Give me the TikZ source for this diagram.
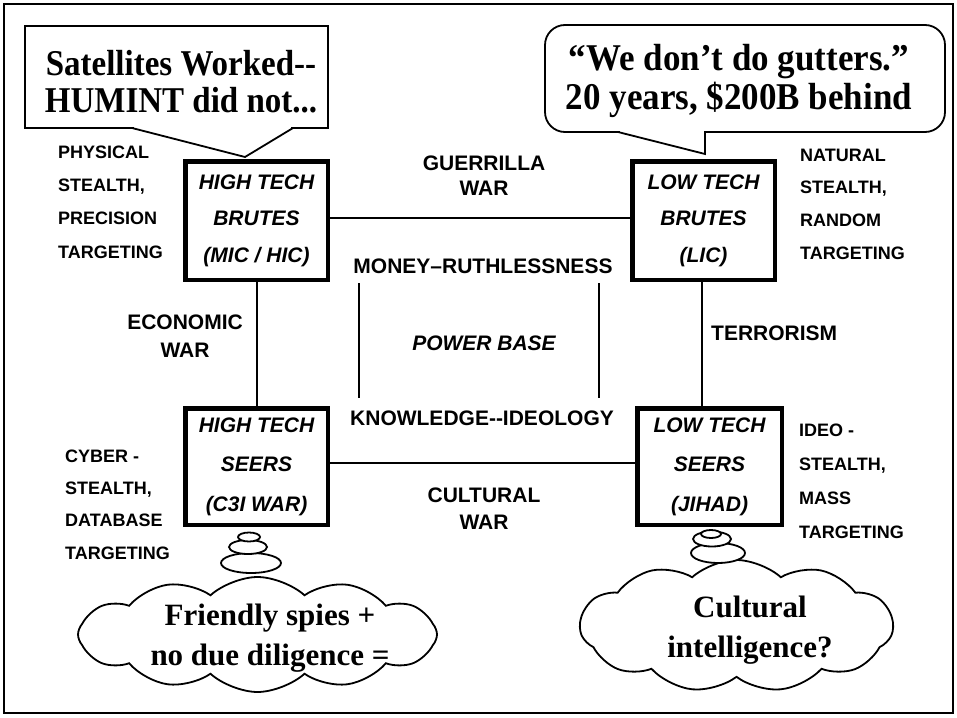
\documentclass[tikz,border=0pt]{standalone}
\usepackage{fontspec}
\setmainfont{Liberation Serif}
\newfontfamily\arialf{Liberation Sans}
\usetikzlibrary{shapes.symbols,calc}
\newcommand\fsz[2]{\fontsize{#1}{#2}\selectfont}
\tikzset{
  conn/.style={line width=2pt},
  frameline/.style={line width=2.5pt},
  tbox/.style={draw, line width=4.5pt, fill=white, align=center, inner sep=0pt,
    font=\arialf\bfseries\itshape\fsz{21}{36.5}},
  sidelbl/.style={align=left, inner sep=0pt, anchor=west},
  conlbl/.style={align=center, inner sep=0pt},
  calloutline/.style={line width=1.8pt},
  ctext/.style={align=center, inner sep=0pt},
  cloudshape/.style={cloud, draw, line width=1.8pt, fill=white, inner sep=0pt},
  bubble/.style={draw, line width=1.8pt, fill=white}
}
\begin{document}
\begin{tikzpicture}[x=1pt, y=-1pt]
\fill[white] (0,0) rectangle (957,717);
\useasboundingbox (0,0) rectangle (957,717);
\draw[frameline] (4,4) rectangle (953,713);

% boxes
\node[tbox, minimum width=142.5pt, minimum height=118.5pt] (htb) at (256.5,220.5) {HIGH TECH\\BRUTES\\(MIC / HIC)};
\node[tbox, minimum width=142.5pt, minimum height=118.5pt] (ltb) at (703.5,220.5) {LOW TECH\\BRUTES\\(LIC)};
\node[tbox, minimum width=142.5pt, minimum height=116.5pt, font=\arialf\bfseries\itshape\fsz{21}{39.5}] (hts) at (256.5,466.5) {HIGH TECH\\SEERS\\(C3I WAR)};
\node[tbox, minimum width=144.5pt, minimum height=116.5pt, font=\arialf\bfseries\itshape\fsz{21}{39.5}] (lts) at (709.5,466.5) {LOW TECH\\SEERS\\(JIHAD)};

% connectors
\coordinate (r1) at ($(ltb.south)+(-1.5,0)$);
\draw[conn] ($(htb.east)+(0,-2.5)$) -- ($(ltb.west)+(0,-2.5)$);
\draw[conn] (htb.south) -- (hts.north);
\draw[conn] (r1) -- (r1 |- lts.north);
\draw[conn] ($(hts.east)+(0,-3.5)$) -- ($(lts.west)+(0,-3.5)$);

% power base lines
\coordinate (p1) at (359,283);
\coordinate (p2) at (359,398);
\coordinate (p3) at (599,283);
\coordinate (p4) at (599,398);
\draw[conn] (p1) -- (p2);
\draw[conn] (p3) -- (p4);

% side labels
\node[sidelbl, font=\arialf\bfseries\fsz{18}{33.3}] (lphys) at (58,202) {PHYSICAL\\STEALTH,\\PRECISION\\TARGETING};
\node[sidelbl, font=\arialf\bfseries\fsz{18}{32.7}] (lnat) at (800,204) {NATURAL\\STEALTH,\\RANDOM\\TARGETING};
\node[sidelbl, font=\arialf\bfseries\fsz{18}{32.3}] (lcyb) at (65,504.5) {CYBER -\\STEALTH,\\DATABASE\\TARGETING};
\node[sidelbl, font=\arialf\bfseries\fsz{18}{34}] (lideo) at (799,481) {IDEO -\\STEALTH,\\MASS\\TARGETING};

% connector labels
\node[conlbl, font=\arialf\bfseries\fsz{21}{25}] (gw) at (484,175.5) {GUERRILLA\\WAR};
\node[conlbl, font=\arialf\bfseries\fsz{21}{28}] (ew) at (185,336) {ECONOMIC\\WAR};
\node[conlbl, font=\arialf\bfseries\fsz{21}{27}] (cw) at (484,508.5) {CULTURAL\\WAR};
\node[conlbl, anchor=west, font=\arialf\bfseries\fsz{21}{25}] (terr) at (711,333) {TERRORISM};
\node[conlbl, font=\arialf\bfseries\fsz{21}{25}] (money) at (483,266) {MONEY\textendash RUTHLESSNESS};
\node[conlbl, font=\arialf\bfseries\itshape\fsz{21}{25}] (pb) at (484,343) {POWER BASE};
\node[conlbl, font=\arialf\bfseries\fsz{21}{25}] (know) at (482,418) {KNOWLEDGE-{}-IDEOLOGY};

% callout 1
\coordinate (tip1) at (245,157);
\draw[calloutline, fill=white] (25,26) rectangle (328,128);
\fill[white] (134,125) rectangle (291,131);
\draw[calloutline] (132,128) -- (tip1) -- (293,128);
\begin{scope}[shift={(181,81.5)}, yscale=1.1]
\node[ctext, transform shape, font=\bfseries\fsz{33}{34}] (t1) at (0,0) {Satellites Worked-{}-\\HUMINT did not...};
\end{scope}

% callout 2
\coordinate (tip2) at (705,154);
\draw[calloutline, fill=white, rounded corners=20pt] (545,25) rectangle (945,132);
\fill[white] (620,129) rectangle (704,135);
\draw[calloutline] (618,132) -- (tip2) -- (705,132);
\begin{scope}[shift={(739,81)}, yscale=1.08]
\node[ctext, transform shape, font=\bfseries\fsz{35}{36}] (t2) at (0,0) {“We don’t do gutters.”\\20 years, \$200B behind};
\end{scope}

% clouds
\node[cloudshape, cloud puffs=12, cloud puff arc=85, aspect=3.1, minimum width=359pt, minimum height=115pt] (cl1) at (257.5,634.5) {};
\node[ctext, font=\bfseries\fsz{31}{40}] (ct1) at (270,638) {Friendly spies +\\no due diligence =};
\draw[bubble] (251,563) ellipse [x radius=30pt, y radius=10pt];
\draw[bubble] (248,547) ellipse [x radius=19pt, y radius=7pt];
\draw[bubble] (249,537) ellipse [x radius=11pt, y radius=4.5pt];

\node[cloudshape, cloud puffs=11, cloud puff arc=85, aspect=2.4, minimum width=313pt, minimum height=132pt] (cl2) at (736.5,626) {};
\node[ctext, font=\bfseries\fsz{31}{40}] (ct2) at (750,630) {Cultural\\intelligence?};
\draw[bubble] (718,553) ellipse [x radius=27pt, y radius=10pt];
\draw[bubble] (712,539) ellipse [x radius=19pt, y radius=7.5pt];
\draw[bubble] (711,534) ellipse [x radius=10pt, y radius=4pt];
\end{tikzpicture}
\end{document}
